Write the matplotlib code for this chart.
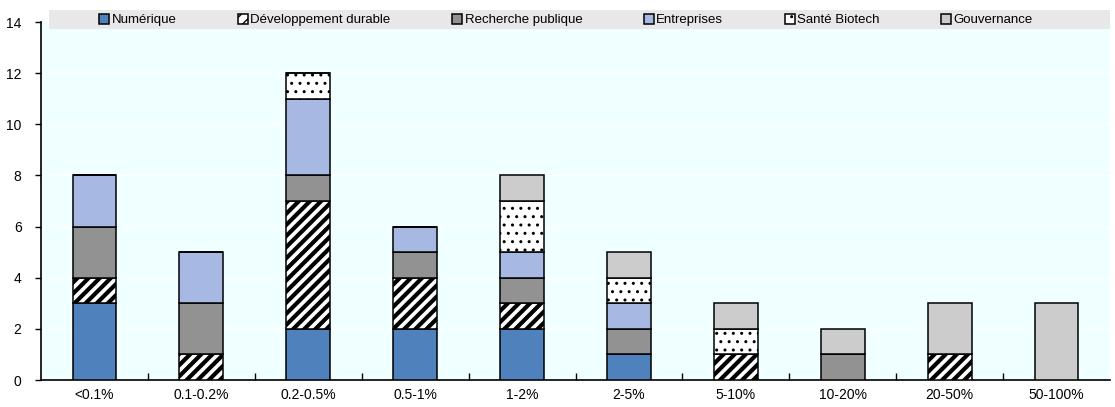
import matplotlib.pyplot as plt
import numpy as np
from matplotlib.patches import Rectangle

plt.rcParams['font.family'] = ['Liberation Sans Narrow', 'Liberation Sans', 'DejaVu Sans']

categories = ['<0.1%', '0.1-0.2%', '0.2-0.5%', '0.5-1%', '1-2%', '2-5%',
              '5-10%', '10-20%', '20-50%', '50-100%']
numerique = [3, 0, 2, 2, 2, 1, 0, 0, 0, 0]
dev_durable = [1, 1, 5, 2, 1, 0, 1, 0, 1, 0]
recherche = [2, 2, 1, 1, 1, 1, 0, 1, 0, 0]
entreprises = [2, 2, 3, 1, 1, 1, 0, 0, 0, 0]
sante = [0, 0, 1, 0, 2, 1, 1, 0, 0, 0]
gouvernance = [0, 0, 0, 0, 1, 1, 1, 1, 2, 3]

# name, values, colour, hatch, hatch line width
series = [
    ('Numérique', numerique, '#4F81BD', None, 1.0),
    ('Développement durable', dev_durable, 'white', '///', 3.0),
    ('Recherche publique', recherche, '#929292', None, 1.0),
    ('Entreprises', entreprises, '#A7B9E3', None, 1.0),
    ('Santé Biotech', sante, 'white', '..', 1.0),
    ('Gouvernance', gouvernance, '#CCCCCC', None, 1.0),
]

fig = plt.figure(figsize=(11.15, 4.07), dpi=100)
ax = fig.add_axes([41 / 1115, 27 / 407, 1069 / 1115, 358 / 407])
ax.set_facecolor('#F0FFFF')

x = np.arange(len(categories))
bottom = np.zeros(len(categories))
handles = []
for name, vals, color, hatch, hlw in series:
    vals = np.array(vals)
    with plt.rc_context({'hatch.linewidth': hlw}):
        b = ax.bar(x, vals, 0.41, bottom=bottom, color=color, edgecolor='black',
                   linewidth=1.1, hatch=hatch, label=name, zorder=3)
    for p in b:
        if hasattr(p, 'set_hatch_linewidth'):
            p.set_hatch_linewidth(hlw)
    handles.append(b)
    bottom += vals

ax.set_xlim(-0.5, len(categories) - 0.5)
ax.set_ylim(0, 14)
ax.set_yticks(range(0, 15, 2))
ax.set_xticks(x)
ax.set_xticklabels(categories)
ax.set_xticks(np.arange(0.5, len(categories) - 0.5, 1), minor=True)
ax.tick_params(axis='x', which='major', length=0, labelsize=10, pad=6)
ax.tick_params(axis='x', which='minor', direction='in', length=5, width=1)
ax.tick_params(axis='y', length=4, width=1, labelsize=10, pad=10)

ax.grid(True, axis='y', color='white', linewidth=1, zorder=0)

for s in ['top', 'right']:
    ax.spines[s].set_visible(False)
ax.spines['left'].set_linewidth(1.2)
ax.spines['bottom'].set_linewidth(1.2)

# grey legend band across the top
band = Rectangle((0.0075, 0.980), 0.9925, 0.0535, transform=ax.transAxes,
                 facecolor='#E8E8E8', edgecolor='none', clip_on=False, zorder=4)
ax.add_patch(band)

leg = ax.legend(handles=handles, ncol=6, loc='center',
                bbox_to_anchor=((566 - 41) / 1069, 1.005),
                frameon=False, fontsize=9.5, handlelength=0.75,
                handleheight=0.75, handletextpad=0.2, columnspacing=4.65,
                borderpad=0, borderaxespad=0)
leg.set_zorder(5)

plt.savefig('out.png', dpi=100)
